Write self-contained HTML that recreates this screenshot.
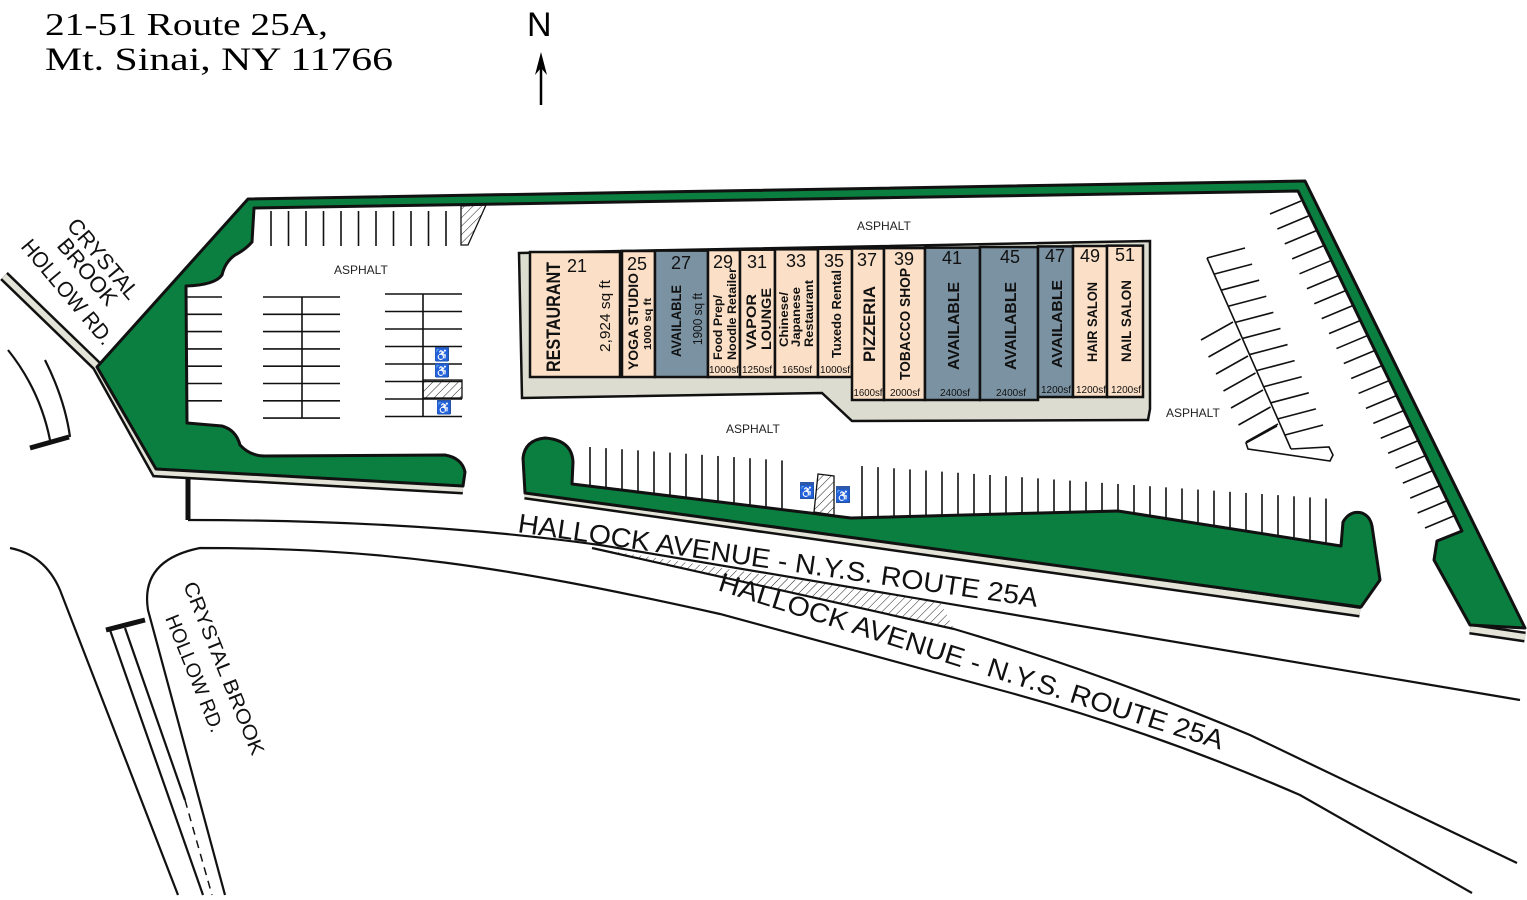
<!DOCTYPE html>
<html><head><meta charset="utf-8"><style>
html,body{margin:0;padding:0;background:#fff;width:1527px;height:900px;overflow:hidden}
svg{display:block}
.s{font-family:"Liberation Sans",sans-serif}
</style></head><body>
<svg id="m" width="1527" height="900" viewBox="0 0 1527 900" xmlns="http://www.w3.org/2000/svg">
<defs>
<pattern id="h" width="6" height="6" patternUnits="userSpaceOnUse" patternTransform="rotate(45)"><line x1="0" y1="0" x2="0" y2="6" stroke="#222" stroke-width="1"/></pattern>
</defs>
<!-- title -->
<text x="45" y="35" font-family="Liberation Serif,serif" font-size="32" textLength="283" lengthAdjust="spacingAndGlyphs">21-51 Route 25A,</text>
<text x="45" y="70" font-family="Liberation Serif,serif" font-size="33" textLength="348" lengthAdjust="spacingAndGlyphs">Mt. Sinai, NY  11766</text>
<text x="527" y="36" class="s" font-size="34">N</text>
<line x1="541" y1="105" x2="541" y2="58" stroke="#000" stroke-width="2.5"/>
<path d="M541,52 L535,75 L541,68 L547,75 Z" fill="#000"/>

<!-- roads -->
<path d="M592,548 L940,602 L954,629 Z" fill="url(#h)" stroke="none"/>
<g fill="none" stroke="#111" stroke-width="2.2">
<path d="M8,350 Q40,390 50,440"/>
<path d="M45,360 Q65,400 70,437"/>
<path d="M188,520 Q420,520 600,545 L1520,700"/>
<path d="M592,548 L954,629 Q1100,672 1250,735 L1517,863"/>
<path d="M10,548 Q45,555 60,590 L178,895"/>
<path d="M225,895 L148,610 Q140,560 200,548 C380,548 500,565 720,614 L1000,690 Q1150,730 1300,795 L1472,893"/>
<path d="M110,630 L203,895"/>
<path d="M125,628 L185,800"/>
<path d="M185,800 L212,895" stroke-dasharray="8,6" stroke-width="1.5"/>
</g>
<g stroke="#111" stroke-width="5">
<line x1="30" y1="448" x2="69" y2="437"/>
<line x1="188" y1="478" x2="188" y2="520"/>
<line x1="106" y1="630" x2="145" y2="620"/>
</g>

<!-- sidewalk strips -->
<g fill="none" stroke-linejoin="miter">
<polyline points="4,276 97,366 156,472 463,489" stroke="#111" stroke-width="11"/>
<polyline points="4,276 97,366 156,472 463,489" stroke="#e3e3d8" stroke-width="6"/>
<polyline points="525,494 1360,612" stroke="#111" stroke-width="11"/>
<polyline points="525,494 1360,612" stroke="#e3e3d8" stroke-width="6"/>
<polyline points="1470,629 1525,637" stroke="#111" stroke-width="11"/>
<polyline points="1470,629 1525,637" stroke="#e3e3d8" stroke-width="6"/>
</g>

<!-- big green boundary -->
<path d="M248,199 L1305,181 L1525,628 L1470,625 L1434,560 L1437,541 L1462,531 L1298,191 L254,208 L252,242 Q245,250 235,255 Q225,262 222,275 Q215,285 186,286 L187,423 L222,426 Q236,430 240,445 Q250,456 265,456 L445,455 Q462,458 465,472 L463,486 L156,469 L97,367 Z" fill="#0a7f3f" stroke="#111" stroke-width="3" stroke-linejoin="round"/>
<!-- middle island -->
<path d="M525,493 L523,458 Q525,440 545,438 Q572,440 573,462 L572,484 L851,518 L1118,511 L1341,546 L1343,522 Q1350,510 1362,513 Q1370,516 1372,526 L1380,580 L1361,607 Z" fill="#0a7f3f" stroke="#111" stroke-width="3" stroke-linejoin="round"/>

<!-- building -->
<path d="M519,253 L1150,241 L1150,409 L1148,420 L852,421 L822,393 L522,398 Z" fill="#dcdcd0" stroke="#111" stroke-width="2.5"/>
<g id="units" stroke="#111" stroke-width="2.5"></g>
<g class="s" text-anchor="middle" fill="#111">
<text x="577" y="272" font-size="18">21</text>
<text x="637" y="270" font-size="18">25</text>
<text x="681" y="269" font-size="18">27</text>
<text x="723" y="268" font-size="18">29</text>
<text x="757" y="268" font-size="18">31</text>
<text x="796" y="267" font-size="18">33</text>
<text x="834" y="267" font-size="18">35</text>
<text x="867" y="266" font-size="18">37</text>
<text x="904" y="265" font-size="18">39</text>
<text x="952" y="264" font-size="18">41</text>
<text x="1010" y="263" font-size="18">45</text>
<text x="1055" y="262" font-size="18">47</text>
<text x="1090" y="262" font-size="18">49</text>
<text x="1125" y="261" font-size="18">51</text>
</g>
<g class="s" font-size="10" text-anchor="middle" fill="#111">
<text x="724" y="373" textLength="30" lengthAdjust="spacingAndGlyphs">1000sf</text>
<text x="757" y="373" textLength="30" lengthAdjust="spacingAndGlyphs">1250sf</text>
<text x="797" y="373" textLength="30" lengthAdjust="spacingAndGlyphs">1650sf</text>
<text x="835" y="373" textLength="30" lengthAdjust="spacingAndGlyphs">1000sf</text>
<text x="868" y="396" textLength="29" lengthAdjust="spacingAndGlyphs">1600sf</text>
<text x="905" y="396" textLength="30" lengthAdjust="spacingAndGlyphs">2000sf</text>
<text x="955" y="396" textLength="30" lengthAdjust="spacingAndGlyphs">2400sf</text>
<text x="1011" y="396" textLength="30" lengthAdjust="spacingAndGlyphs">2400sf</text>
<text x="1056" y="393" textLength="30" lengthAdjust="spacingAndGlyphs">1200sf</text>
<text x="1091" y="393" textLength="30" lengthAdjust="spacingAndGlyphs">1200sf</text>
<text x="1126" y="393" textLength="30" lengthAdjust="spacingAndGlyphs">1200sf</text>
</g>
<g class="s" fill="#111" font-weight="bold">
<text transform="translate(560,372) rotate(-90)" font-size="19" textLength="110" lengthAdjust="spacingAndGlyphs">RESTAURANT</text>
<text transform="translate(610,352) rotate(-90)" font-size="15" font-weight="normal" textLength="72" lengthAdjust="spacingAndGlyphs">2,924 sq ft</text>
<text transform="translate(638,370) rotate(-90)" font-size="14" textLength="97" lengthAdjust="spacingAndGlyphs">YOGA STUDIO</text>
<text transform="translate(651,350) rotate(-90)" font-size="10" textLength="52" lengthAdjust="spacingAndGlyphs">1000 sq ft</text>
<text transform="translate(681,357) rotate(-90)" font-size="14" textLength="72" lengthAdjust="spacingAndGlyphs">AVAILABLE</text>
<text transform="translate(702,345) rotate(-90)" font-size="13" font-weight="normal" textLength="52" lengthAdjust="spacingAndGlyphs">1900 sq ft</text>
<text transform="translate(722,360) rotate(-90)" font-size="12" textLength="65" lengthAdjust="spacingAndGlyphs">Food Prep/</text>
<text transform="translate(736,360) rotate(-90)" font-size="12" textLength="92" lengthAdjust="spacingAndGlyphs">Noodle Retailer</text>
<text transform="translate(756,350) rotate(-90)" font-size="14" textLength="56" lengthAdjust="spacingAndGlyphs">VAPOR</text>
<text transform="translate(771,350) rotate(-90)" font-size="14" textLength="62" lengthAdjust="spacingAndGlyphs">LOUNGE</text>
<text transform="translate(788,347) rotate(-90)" font-size="12" textLength="55" lengthAdjust="spacingAndGlyphs">Chinese/</text>
<text transform="translate(800,347) rotate(-90)" font-size="12" textLength="60" lengthAdjust="spacingAndGlyphs">Japanese</text>
<text transform="translate(813,347) rotate(-90)" font-size="12" textLength="67" lengthAdjust="spacingAndGlyphs">Restaurant</text>
<text transform="translate(841,358) rotate(-90)" font-size="13" textLength="88" lengthAdjust="spacingAndGlyphs">Tuxedo Rental</text>
<text transform="translate(875,362) rotate(-90)" font-size="17" textLength="76" lengthAdjust="spacingAndGlyphs">PIZZERIA</text>
<text transform="translate(910,380) rotate(-90)" font-size="15" textLength="112" lengthAdjust="spacingAndGlyphs">TOBACCO SHOP</text>
<text transform="translate(959,370) rotate(-90)" font-size="16" textLength="88" lengthAdjust="spacingAndGlyphs">AVAILABLE</text>
<text transform="translate(1016,370) rotate(-90)" font-size="16" textLength="88" lengthAdjust="spacingAndGlyphs">AVAILABLE</text>
<text transform="translate(1062,368) rotate(-90)" font-size="15" textLength="88" lengthAdjust="spacingAndGlyphs">AVAILABLE</text>
<text transform="translate(1097,362) rotate(-90)" font-size="14" textLength="80" lengthAdjust="spacingAndGlyphs">HAIR SALON</text>
<text transform="translate(1131,362) rotate(-90)" font-size="14" textLength="82" lengthAdjust="spacingAndGlyphs">NAIL SALON</text>
</g>

<g id="lines" stroke="#111" stroke-width="1.6" fill="none"></g>
<path d="M1277,426 L1246,443 L1248,449 L1330,461 L1333,455 L1329,447 L1291,449" fill="none" stroke="#111" stroke-width="1.6"/>

<!-- hatched spaces -->
<path d="M461,206 L486,205 L468,245 L461,245 Z" fill="url(#h)" stroke="#111" stroke-width="1.3"/>
<rect x="423" y="380" width="39" height="18" fill="url(#h)" stroke="#111" stroke-width="1.3"/>
<path d="M818,474 L834,476 L834,515 L814,512 Z" fill="url(#h)" stroke="#111" stroke-width="1.3"/>

<!-- handicap -->
<g fill="#2d57a8">
<rect x="435" y="347" width="14" height="14"/><rect x="435" y="363" width="14" height="14"/><rect x="437" y="400" width="14" height="14"/>
<rect x="800" y="482" width="14" height="17"/><rect x="836" y="486" width="14" height="17"/>
</g>
<g fill="#fff" font-size="12" class="s" text-anchor="middle">
<text x="442" y="359">♿</text><text x="442" y="375">♿</text><text x="444" y="412">♿</text>
<text x="807" y="496">♿</text><text x="843" y="500">♿</text>
</g>

<!-- labels -->
<g class="s" font-size="12" fill="#222">
<text x="334" y="274">ASPHALT</text>
<text x="857" y="230">ASPHALT</text>
<text x="726" y="433">ASPHALT</text>
<text x="1166" y="417">ASPHALT</text>
</g>
<g class="s" font-size="27" fill="#111">
<text transform="translate(517,532) rotate(8.2)" textLength="525" lengthAdjust="spacingAndGlyphs">HALLOCK AVENUE  -  N.Y.S. ROUTE 25A</text>
<text transform="translate(717,590) rotate(17.6)" textLength="528" lengthAdjust="spacingAndGlyphs">HALLOCK AVENUE  -  N.Y.S. ROUTE 25A</text>
</g>
<g class="s" font-size="22" fill="#111">
<text transform="translate(66,226) rotate(50)" textLength="98" lengthAdjust="spacingAndGlyphs">CRYSTAL</text>
<text transform="translate(56,246) rotate(50)" textLength="80" lengthAdjust="spacingAndGlyphs">BROOK</text>
<text transform="translate(20,247) rotate(50)" textLength="130" lengthAdjust="spacingAndGlyphs">HOLLOW RD.</text>
<text transform="translate(183,585) rotate(68)" font-size="20" textLength="185" lengthAdjust="spacingAndGlyphs">CRYSTAL BROOK</text>
<text transform="translate(165,618) rotate(68)" font-size="20" textLength="125" lengthAdjust="spacingAndGlyphs">HOLLOW RD.</text>
</g>
</svg>
<script>
(function(){
var NS="http://www.w3.org/2000/svg";
function L(g,x1,y1,x2,y2){var l=document.createElementNS(NS,"line");l.setAttribute("x1",x1);l.setAttribute("y1",y1);l.setAttribute("x2",x2);l.setAttribute("y2",y2);g.appendChild(l);}
function R(g,x,y,w,h,f){var r=document.createElementNS(NS,"rect");r.setAttribute("x",x);r.setAttribute("y",y);r.setAttribute("width",w);r.setAttribute("height",h);r.setAttribute("fill",f);g.appendChild(r);}
var u=document.getElementById("units"),B="#fbdfc6",G="#7a92a2";
var units=[[530,620,377,B],[622,655,377,B],[655,708,377,G],[708,740,377,B],[740,775,377,B],[775,818,377,B],[818,852,377,B],[852,884,400,B],[884,925,400,B],[925,980,400,G],[980,1038,400,G],[1038,1073,397,G],[1073,1107,397,B],[1107,1143,397,B]];
units.forEach(function(a){var t=252-(a[0]-530)*0.011;R(u,a[0],t,a[1]-a[0],a[2]-t,a[3]);});
var g=document.getElementById("lines"),i,x,y,t;
for(i=0;i<11;i++){x=271+i*17.5;L(g,x,211,x,246);}
for(i=0;i<7;i++){y=297+i*17.3;L(g,187,y,222,y);}
for(i=0;i<8;i++){y=297+i*17.3;L(g,263,y,340,y);}L(g,302,297,302,418);
for(i=0;i<8;i++){y=294+i*17.5;L(g,385,y,462,y);}L(g,423,294,423,417);
for(i=0;i<22;i++){t=i/21;x=1301+t*(1456-1301);y=201+t*(515-201);L(g,x,y,x-31,y+13);}
L(g,1207,258,1291,449);
for(i=0;i<12;i++){t=i/11;x=1207+t*(1285-1207);y=258+t*(435-258);L(g,x,y,x+38,y-10);}
for(i=0;i<7;i++){x=1233+i*7.5;y=322+i*17;L(g,x,y,x-32,y+18);}
for(i=0;i<48;i++){x=590+i*16;if(x>795&&x<855)continue;if(x>1340)break;var tp=447+(x-590)*0.07;var bt;if(x<851)bt=484+(x-572)*0.122;else if(x<1118)bt=518-(x-851)*0.026;else bt=511+(x-1118)*0.15;L(g,x,tp,x,bt);}
})();
</script>
</body></html>
